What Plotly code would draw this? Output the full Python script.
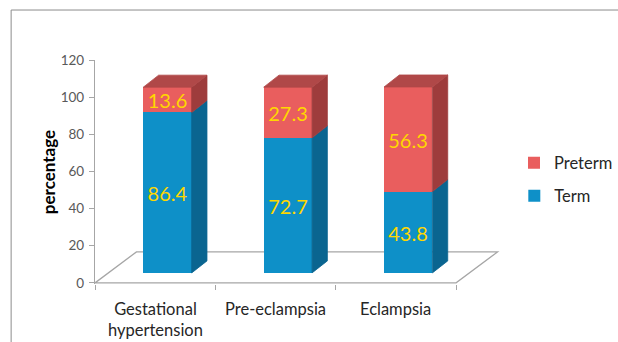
import plotly.graph_objects as go

# ---- data -------------------------------------------------------------
categories = ["Gestational<br>hypertension", "Pre-eclampsia", "Eclampsia"]
term = [86.4, 72.7, 43.8]
preterm = [13.6, 27.3, 56.3]
y_ticks = [0, 20, 40, 60, 80, 100, 120]

# ---- colours ----------------------------------------------------------
TERM_FRONT, TERM_SIDE = "#0E90C8", "#0A6590"
PRE_FRONT, PRE_SIDE, PRE_TOP = "#E95E5E", "#9E3C3C", "#B04848"
LABEL_YELLOW = "#FFD700"
AXIS_GREY = "#A6A6A6"
FONT = "Lato"

# ---- page geometry (pixels) ------------------------------------------
W, H = 618, 342
PLOT_L, PLOT_R, PLOT_T = 95, 618, 60
CAT_PX = 122                      # width of one category slot
ZERO_PX = 283                     # pixel row of value 0 on the floor front edge
K = (ZERO_PX - PLOT_T) / 120      # pixels per percentage point
Y_MIN = -0.6
PLOT_B = ZERO_PX - Y_MIN * K

def dx(px):
    return px / CAT_PX

def dy(px):
    return px / K

def paper_x(px):
    return (px - PLOT_L) / (PLOT_R - PLOT_L)

def paper_y(py):
    return (PLOT_B - py) / (PLOT_B - PLOT_T)

# perspective offsets of the pseudo-3D floor and columns
FLOOR_DX, FLOOR_DY = dx(42), dy(31)
FRONT_DX, FRONT_DY = dx(12.5), dy(10)
DEPTH_DX, DEPTH_DY = dx(15.5), dy(12)
BAR_W = dx(49)

n = len(categories)
xs = [i + FRONT_DX for i in range(n)]

fig = go.Figure()

# front faces of the stacked columns
fig.add_trace(go.Bar(
    name="Term", x=xs, y=term, base=[FRONT_DY] * n, width=BAR_W,
    marker=dict(color=TERM_FRONT, line=dict(width=0)),
    text=[f"{v}" for v in term], textposition="inside",
    insidetextanchor="middle", textangle=0,
    textfont=dict(color=LABEL_YELLOW, size=20, family=FONT),
    hoverinfo="skip", legend="legend2",
))
fig.add_trace(go.Bar(
    name="Preterm", x=xs, y=preterm, base=[FRONT_DY + t for t in term], width=BAR_W,
    marker=dict(color=PRE_FRONT, line=dict(width=0)),
    text=[f"{v}" for v in preterm], textposition="inside",
    insidetextanchor="middle", textangle=0,
    textfont=dict(color=LABEL_YELLOW, size=20, family=FONT),
    hoverinfo="skip", legend="legend",
))

def face(px, py, color):
    fig.add_trace(go.Scatter(
        x=px, y=py, mode="lines", fill="toself", fillcolor=color,
        line=dict(color=color, width=0.8), hoverinfo="skip", showlegend=False,
    ))

# side and top faces, derived from the same values
for i in range(n):
    xl = xs[i] - BAR_W / 2
    xr = xs[i] + BAR_W / 2
    y0 = FRONT_DY
    y1 = y0 + term[i]
    y2 = y1 + preterm[i]
    face([xr, xr + DEPTH_DX, xr + DEPTH_DX, xr, xr],
         [y0, y0 + DEPTH_DY, y1 + DEPTH_DY, y1, y0], TERM_SIDE)
    face([xr, xr + DEPTH_DX, xr + DEPTH_DX, xr, xr],
         [y1, y1 + DEPTH_DY, y2 + DEPTH_DY, y2, y1], PRE_SIDE)
    face([xl, xl + DEPTH_DX, xr + DEPTH_DX, xr, xl],
         [y2, y2 + DEPTH_DY, y2 + DEPTH_DY, y2, y2], PRE_TOP)

# floor outline, drawn beneath the columns
x_lo, x_hi = -0.5, n - 0.5
floor_path = (f"M{x_lo},0 L{x_hi},0 L{x_hi + FLOOR_DX},{FLOOR_DY} "
              f"L{x_lo + FLOOR_DX},{FLOOR_DY} Z")
shapes = [
    dict(type="path", path=floor_path, xref="x", yref="y", layer="below",
         line=dict(color=AXIS_GREY, width=1.3)),
    # chart frame
    dict(type="rect", xref="paper", yref="paper", layer="below",
         x0=paper_x(10), x1=paper_x(W + 20), y0=paper_y(H + 20), y1=paper_y(10),
         line=dict(color="#8C8C8C", width=1)),
]

annotations = [
    dict(x=i, xref="x", y=0, yref="paper", yanchor="top", yshift=-13,
         text=c, showarrow=False, align="center",
         font=dict(family=FONT, size=16.5, color="#262626"))
    for i, c in enumerate(categories)
]

fig.update_layout(
    width=W, height=H, autosize=False,
    margin=dict(l=PLOT_L, r=W - PLOT_R, t=PLOT_T, b=H - PLOT_B, pad=0),
    paper_bgcolor="white", plot_bgcolor="white",
    barmode="overlay", bargap=0,
    font=dict(family=FONT, color="#404040"),
    shapes=shapes, annotations=annotations,
    uniformtext=dict(minsize=20, mode="show"),
    xaxis=dict(
        range=[x_lo, x_lo + (PLOT_R - PLOT_L) / CAT_PX],
        tickvals=[x_lo + j for j in range(n + 1)],
        ticktext=[""] * (n + 1),
        ticks="outside", ticklen=5, tickcolor=AXIS_GREY, tickwidth=1,
        showline=False, showgrid=False, zeroline=False, fixedrange=True,
    ),
    yaxis=dict(
        range=[Y_MIN, 120], tickvals=y_ticks,
        ticks="outside", ticklen=5, tickcolor=AXIS_GREY, tickwidth=1,
        showline=True, linecolor=AXIS_GREY, linewidth=1.3,
        showgrid=False, zeroline=False, fixedrange=True,
        tickfont=dict(family=FONT, size=13.5, color="#595959"),
        ticklabelstandoff=2,
        title=dict(text="<b>percentage</b>", standoff=0,
                   font=dict(family=FONT, size=17, color="#000000")),
    ),
    legend=dict(x=paper_x(520), y=paper_y(163), xanchor="left", yanchor="middle",
                font=dict(family=FONT, size=16.5, color="#262626"),
                bgcolor="rgba(0,0,0,0)", borderwidth=0),
    legend2=dict(x=paper_x(520), y=paper_y(196), xanchor="left", yanchor="middle",
                 font=dict(family=FONT, size=16.5, color="#262626"),
                 bgcolor="rgba(0,0,0,0)", borderwidth=0),
)

fig.write_html("out.html")
